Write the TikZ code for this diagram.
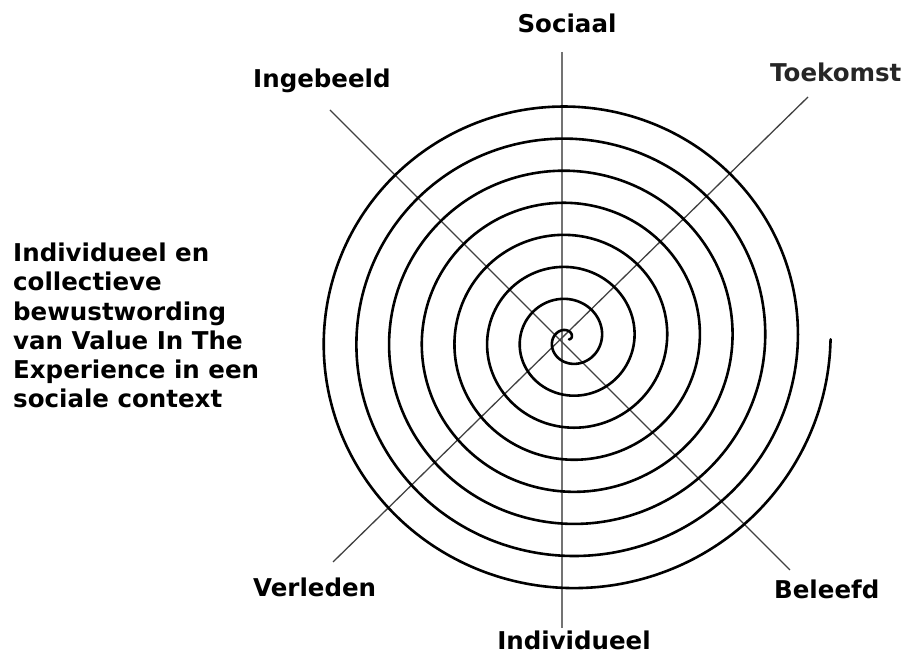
\documentclass[tikz,border=0pt]{standalone}
\usepackage{fontspec}
\setmainfont{DejaVu Sans}
\begin{document}
\begin{tikzpicture}[x=1pt,y=1pt,
  lbl/.style={font=\bfseries\fontsize{24.5}{29.3}\selectfont, inner sep=0pt, text=black},
  axisline/.style={draw=black!55, line width=1.5pt},
  diagline/.style={draw=black!75, line width=1.3pt},
  spiralline/.style={draw=black, line width=2.6pt, line cap=round}]
\useasboundingbox (0,0) rectangle (906,660);
% labels
\node[lbl, anchor=base] (soc) at (567,627) {Sociaal};
\node[lbl, anchor=base west] (ing) at (253,572) {Ingebeeld};
\node[lbl, anchor=base west, text=black!85] (toe) at (770,578) {Toekomst};
\node[lbl, anchor=base west] (ver) at (253,63) {Verleden};
\node[lbl, anchor=base west] (bel) at (774,61) {Beleefd};
\node[lbl, anchor=base] (ind) at (574,10) {Individueel};
\node[lbl, anchor=base west, align=left] (desc) at (13,252)
  {Individueel en\\collectieve\\bewustwording\\van Value In The\\Experience in een\\sociale context};
% line ends
\coordinate (socE) at (562,608);
\coordinate (indE) at (562,32);
\coordinate (ingE) at (330,550);
\coordinate (belE) at (790,90);
\coordinate (toeE) at (808,563);
\coordinate (verE) at (333,98);
\draw[axisline] (socE) -- (indE);
\draw[diagline] (ingE) -- (belE);
\draw[diagline] (toeE) -- (verE);
% spiral
\draw[spiralline] plot[domain=0:2880, samples=900, smooth, variable=\t]
  ({569 + 32.7*(\t/360)*cos(\t)}, {320.7 + 32.1*(\t/360)*sin(\t)});
\end{tikzpicture}
\end{document}
